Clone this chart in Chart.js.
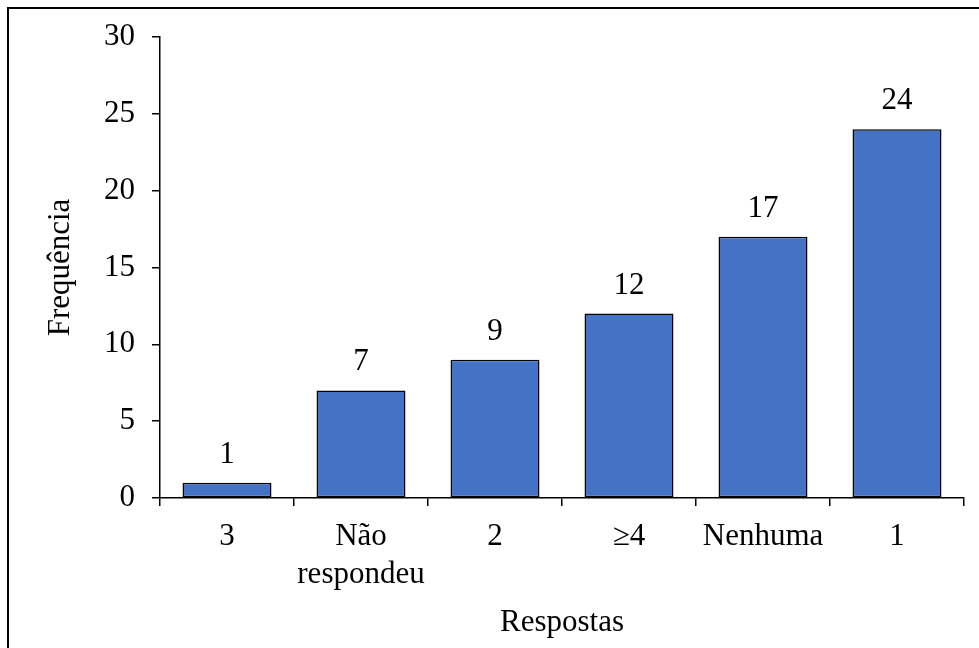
<!DOCTYPE html>
<html>
<head>
<meta charset="utf-8">
<script src="https://cdn.jsdelivr.net/npm/chart.js@4"></script>
<style>
  html, body { margin: 0; padding: 0; background: #fff; overflow: hidden; }
  #frame { position: absolute; left: 7px; top: 7px; width: 1000px; height: 700px; border: 2px solid #000; box-sizing: border-box; }
  #chart { position: absolute; left: 0; top: 0; }
</style>
</head>
<body>
<div id="frame"></div>
<canvas id="chart" width="979" height="648"></canvas>
<script>
// Frequência por resposta
const categories = ['3', ['Não', 'respondeu'], '2', '≥4', 'Nenhuma', '1'];
const frequencias = [1, 7, 9, 12, 17, 24];
const yTicks = [0, 5, 10, 15, 20, 25, 30];

const FONT = '"Liberation Serif", "Times New Roman", serif';
const FS = 31;

// rotulos de valor acima das barras
const valueLabels = {
    id: 'valueLabels',
    afterDatasetsDraw(chart) {
        const ctx = chart.ctx;
        const meta = chart.getDatasetMeta(0);
        ctx.save();
        ctx.font = FS + 'px ' + FONT;
        ctx.fillStyle = '#000';
        ctx.textAlign = 'center';
        ctx.textBaseline = 'alphabetic';
        meta.data.forEach((bar, i) => {
            ctx.fillText(String(frequencias[i]), bar.x, bar.y - 20);
        });
        ctx.restore();
    }
};

const ctx = document.getElementById('chart').getContext('2d');
new Chart(ctx, {
    type: 'bar',
    data: {
        labels: categories,
        datasets: [{
            label: 'Frequência',
            data: frequencias,
            backgroundColor: '#4472C4',
            borderColor: '#000',
            borderWidth: 1.5,
            borderSkipped: false,
            barPercentage: 0.664,
            categoryPercentage: 1
        }]
    },
    options: {
        responsive: false,
        animation: false,
        layout: { padding: { top: 37, right: 15, left: 0, bottom: 0 } },
        plugins: {
            legend: { display: false },
            tooltip: { enabled: false }
        },
        scales: {
            x: {
                afterFit(scale) { scale.height = 150; },
                grid: {
                    offset: true,
                    drawOnChartArea: false,
                    drawTicks: true,
                    tickLength: 8,
                    color: '#000',
                    lineWidth: 1.5
                },
                border: { color: '#000', width: 1.5 },
                ticks: {
                    color: '#000',
                    padding: 12,
                    maxRotation: 0,
                    autoSkip: false,
                    font: { family: FONT, size: FS, lineHeight: 1.22 }
                },
                title: {
                    display: true,
                    text: 'Respostas',
                    color: '#000',
                    padding: { top: 0, bottom: 7 },
                    font: { family: FONT, size: FS }
                }
            },
            y: {
                min: 0,
                max: 30,
                afterFit(scale) { scale.width = 160; },
                afterBuildTicks(scale) { scale.ticks = yTicks.map(v => ({ value: v })); },
                grid: {
                    drawOnChartArea: false,
                    drawTicks: true,
                    tickLength: 8,
                    color: '#000',
                    lineWidth: 1.5
                },
                border: { color: '#000', width: 1.5 },
                ticks: {
                    color: '#000',
                    padding: 17,
                    font: { family: FONT, size: FS }
                },
                title: {
                    display: true,
                    text: 'Frequência',
                    color: '#000',
                    padding: { top: 42, bottom: 0 },
                    font: { family: FONT, size: FS }
                }
            }
        }
    },
    plugins: [valueLabels]
});
</script>
</body>
</html>
